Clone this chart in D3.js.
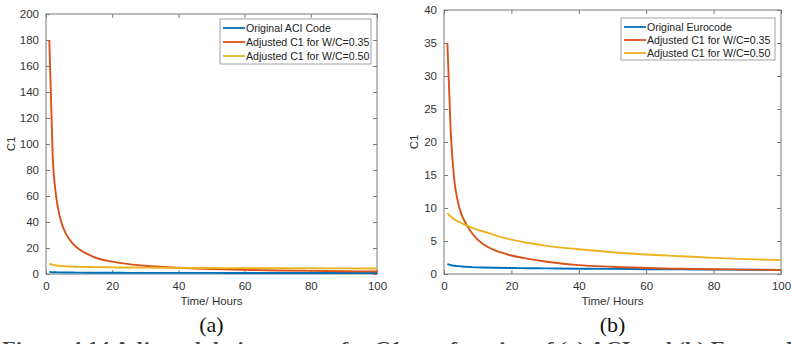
<!DOCTYPE html>
<html><head><meta charset="utf-8">
<script src="https://cdn.jsdelivr.net/npm/d3@7"></script>
<style>body{margin:0;background:#fff;overflow:hidden}svg{display:block}</style>
</head><body>
<svg id="chart" width="791" height="344"></svg>
<script>
// ---- Data ----
const hoursA = [1,2,3,4,5,6,8,10,12,15,20,25,30,40,50,60,70,80,90,100];
const aciOriginal = [1.6,1.4,1.3,1.25,1.2,1.15,1.1,1.05,1.0,1.0,0.95,0.9,0.9,0.85,0.85,0.8,0.8,0.8,0.8,0.75];
const aciWC035 = [180,92,61,46,37,31,23.5,19,16,12.5,9.5,7.6,6.3,4.8,3.8,3.2,2.7,2.4,2.1,1.9];
const aciWC050 = [8,7,6.6,6.3,6.1,5.9,5.7,5.5,5.4,5.3,5.1,5.0,4.9,4.7,4.6,4.5,4.4,4.4,4.3,4.2];

const hoursB = [1,2,3,4,5,6,7,8,10,12,15,20,25,30,40,50,60,70,80,90,100];
const euroOriginal = [1.5,1.35,1.25,1.2,1.15,1.1,1.08,1.05,1.0,0.98,0.95,0.9,0.88,0.85,0.8,0.77,0.73,0.7,0.67,0.65,0.62];
const euroWC035 = [35,21.5,14.5,11.2,9.3,8.1,7.2,6.4,5.2,4.4,3.6,2.8,2.3,1.9,1.35,1.1,0.9,0.8,0.72,0.66,0.6];
const euroWC050 = [9.2,8.7,8.3,8.0,7.8,7.5,7.3,7.1,6.7,6.4,5.9,5.2,4.7,4.3,3.75,3.3,2.95,2.7,2.45,2.25,2.1];

const xTicks = [0,20,40,60,80,100];
const yTicksA = [0,20,40,60,80,100,120,140,160,180,200];
const yTicksB = [0,5,10,15,20,25,30,35,40];
const legendA = ["Original ACI Code","Adjusted C1 for W/C=0.35","Adjusted C1 for W/C=0.50"];
const legendB = ["Original Eurocode","Adjusted C1 for W/C=0.35","Adjusted C1 for W/C=0.50"];
const colors = ["#0072BD","#D95319","#EDB120"];
const captionText = "Figure 4.14 Adjusted design curves for C1 as a function of (a) ACI and (b) Eurocode";

const svg = d3.select("#chart");
const font = "'Liberation Sans', Arial, Helvetica, sans-serif";
const axisColor = "#7a7a7a";
const textColor = "#333";

function panel(cfg) {
  const x = d3.scaleLinear().domain([0,100]).range([cfg.left, cfg.right]);
  const y = d3.scaleLinear().domain([0, cfg.ymax]).range([cfg.bottom, cfg.top]);
  const g = svg.append("g");

  g.append("rect").attr("x", cfg.left).attr("y", cfg.top)
    .attr("width", cfg.right - cfg.left).attr("height", cfg.bottom - cfg.top)
    .attr("fill", "#fff").attr("stroke", axisColor).attr("stroke-width", 1);

  const xa = g.append("g").attr("transform", `translate(0,${cfg.bottom})`)
    .call(d3.axisBottom(x).tickValues(xTicks).tickSize(-4).tickPadding(8).tickSizeOuter(0));
  xa.select(".domain").remove();
  const xt = g.append("g").attr("transform", `translate(0,${cfg.top})`)
    .call(d3.axisTop(x).tickValues(xTicks).tickSize(-4).tickFormat("").tickSizeOuter(0));
  xt.select(".domain").remove();
  const ya = g.append("g").attr("transform", `translate(${cfg.left},0)`)
    .call(d3.axisLeft(y).tickValues(cfg.yTicks).tickSize(-4).tickPadding(7).tickSizeOuter(0));
  ya.select(".domain").remove();
  const yr = g.append("g").attr("transform", `translate(${cfg.right},0)`)
    .call(d3.axisRight(y).tickValues(cfg.yTicks).tickSize(-4).tickFormat("").tickSizeOuter(0));
  yr.select(".domain").remove();

  [xa, xt, ya, yr].forEach(a => {
    a.selectAll("line").attr("stroke", axisColor);
    a.selectAll("text").attr("fill", textColor).style("font-family", font).style("font-size", "11.5px");
  });

  g.append("text").attr("x", (cfg.left + cfg.right) / 2).attr("y", cfg.bottom + 31)
    .attr("text-anchor", "middle").attr("fill", textColor)
    .style("font-family", font).style("font-size", "11.5px").text("Time/ Hours");
  g.append("text").attr("transform", `translate(${cfg.left - cfg.ylabOff},${(cfg.top + cfg.bottom) / 2}) rotate(-90)`)
    .attr("text-anchor", "middle").attr("fill", textColor)
    .style("font-family", font).style("font-size", "11.5px").text("C1");

  const line = d3.line().x((d, i) => x(cfg.hours[i])).y(d => y(d)).curve(d3.curveMonotoneX);
  const clipId = "clip" + cfg.id;
  g.append("clipPath").attr("id", clipId).append("rect")
    .attr("x", cfg.left).attr("y", cfg.top).attr("width", cfg.right - cfg.left).attr("height", cfg.bottom - cfg.top);
  const lg = g.append("g").attr("clip-path", `url(#${clipId})`);
  cfg.series.forEach((s, i) => {
    lg.append("path").datum(s).attr("d", line).attr("fill", "none")
      .attr("stroke", colors[i]).attr("stroke-width", 1.9);
  });

  const L = cfg.legend;
  g.append("rect").attr("x", L.x).attr("y", L.y).attr("width", L.w).attr("height", L.h)
    .attr("fill", "#fff").attr("stroke", "#8a8a8a").attr("stroke-width", 0.8);
  cfg.labels.forEach((t, i) => {
    const yy = L.y + 9 + i * L.step;
    g.append("line").attr("x1", L.x + 3).attr("x2", L.x + 25).attr("y1", yy).attr("y2", yy)
      .attr("stroke", colors[i]).attr("stroke-width", 1.8);
    g.append("text").attr("x", L.x + 26).attr("y", yy + 4).attr("fill", "#222")
      .style("font-family", font).style("font-size", "10.6px").text(t);
  });

  g.append("text").attr("x", (cfg.left + cfg.right) / 2).attr("y", 332)
    .attr("text-anchor", "middle").attr("fill", "#111")
    .style("font-family", "'Liberation Serif', 'Times New Roman', serif").style("font-size", "22px")
    .text(cfg.tag);
}

panel({id: "a", left: 46, right: 377, top: 14, bottom: 274, ymax: 200, yTicks: yTicksA, ylabOff: 31,
  hours: hoursA, series: [aciOriginal, aciWC035, aciWC050], labels: legendA,
  legend: {x: 220, y: 19, w: 151, h: 45, step: 14}, tag: "(a)"});
panel({id: "b", left: 444, right: 781, top: 10, bottom: 274, ymax: 40, yTicks: yTicksB, ylabOff: 26,
  hours: hoursB, series: [euroOriginal, euroWC035, euroWC050], labels: legendB,
  legend: {x: 621, y: 18, w: 154, h: 42, step: 13}, tag: "(b)"});

// figure caption, clipped by the bottom edge as in the reference
svg.append("text").attr("x", 2).attr("y", 355).attr("fill", "#444")
  .attr("textLength", 800).attr("lengthAdjust", "spacingAndGlyphs")
  .style("font-family", "'Liberation Serif', 'Times New Roman', serif").style("font-size", "19px")
  .style("font-weight", "bold").text(captionText);
</script>
</body></html>
